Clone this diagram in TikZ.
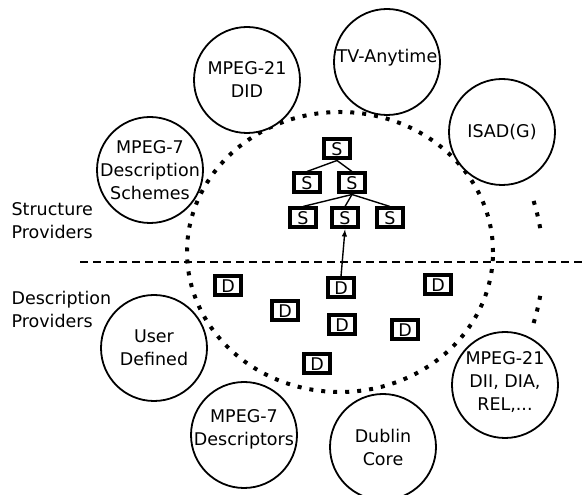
\documentclass[tikz,border=0pt]{standalone}
\usepackage{fontspec}
\setmainfont{DejaVu Sans}
\usetikzlibrary{arrows,positioning,calc}

\begin{document}
\begin{tikzpicture}[x=1pt,y=1pt,
  every node/.style={font=\fontsize{17.5}{23}\selectfont,align=center},%
  prov/.style={circle,draw,fill=white,line width=1.8pt,minimum size=106pt,inner sep=0pt},%
  sbox/.style={draw,fill=white,line width=4pt,minimum width=26pt,minimum height=19pt,inner sep=0pt},%
  e/.style={line width=1.4pt},%
  dots/.style={line width=4pt,dash pattern=on 4pt off 8pt},%
  side/.style={align=left,anchor=west},%
  ]
  \useasboundingbox (0,0) rectangle (587,495);

  % the big dotted border and its outer bits
  \draw [dots] (340,243) ellipse [x radius=153,y radius=140];
  \draw [dots] (340,233) ++(9.6:203) arc [start angle=9.6,end angle=17.5,radius=203];
  \draw [dots] (340,233) ++(-17.5:203) arc [start angle=-17.5,end angle=-9.6,radius=203];

  % providers
  \node (mpsd) [prov] at (150,325) {};
  \node (did) [prov] at (247,415) {};
  \node (tva) [prov] at (387,433) {};
  \node (isad) [prov] at (502,363) {};
  \node (user) [prov] at (154,147) {};
  \node (mpd) [prov] at (244,60) {};
  \node (dc) [prov] at (383,48) {};
  \node (dii) [prov] at (505,110) {};

  \node (mpsdtxt) at (mpsd) {MPEG-7\\Description\\Schemes};
  \node (didtxt) at (did) {MPEG-21\\DID};
  \node (tvatxt) at ($(tva)+(0,4)$) {TV-Anytime};
  \node (isadtxt) at (isad) {ISAD(G)};
  \node (usertxt) at (user) {User\\Defined};
  \node (mpdtxt) at ($(mpd)+(0,6)$) {MPEG-7\\Descriptors};
  \node (dctxt) at (dc) {Dublin\\Core};
  \node (diitxt) at ($(dii)+(0,3)$) {MPEG-21\\DII, DIA,\\REL,...};

  % split line
  \coordinate (lft) at (80,233);
  \coordinate (rgt) at (587,233);
  \draw [line width=1.3pt,dash pattern=on 8pt off 5pt] (lft) -- (rgt);

  \node (structure) [side] at (8,274) {Structure\\Providers};
  \node (description) [side] at (8,186) {Description\\Providers};

  % structure tree
  \node (s1) [sbox] at (337,346) {S};
  \node (s21) [sbox] at (307,312) {S};
  \node (s22) [sbox] at (352,312) {S};
  \node (s31) [sbox] at (303,277) {S};
  \node (s32) [sbox] at (345,277) {S};
  \node (s33) [sbox] at (390,277) {S};

  \draw [e] (s1.south) -- (s21.north);
  \draw [e] (s1.south) -- (s22.north);
  \draw [e] (s22.south) -- (s31.north);
  \draw [e] (s22.south) -- (s32.north);
  \draw [e] (s22.south) -- (s33.north);

  % descriptors
  \node (d1) [sbox] at (228,209) {D};
  \node (d2) [sbox] at (341,207) {D};
  \node (d3) [sbox] at (438,210) {D};
  \node (d4) [sbox] at (285,184) {D};
  \node (d5) [sbox] at (342,170) {D};
  \node (d6) [sbox] at (405,165) {D};
  \node (d7) [sbox] at (317,131) {D};

  \draw [e,-latex] (d2.north) -- (s32.south);
\end{tikzpicture}
\end{document}
